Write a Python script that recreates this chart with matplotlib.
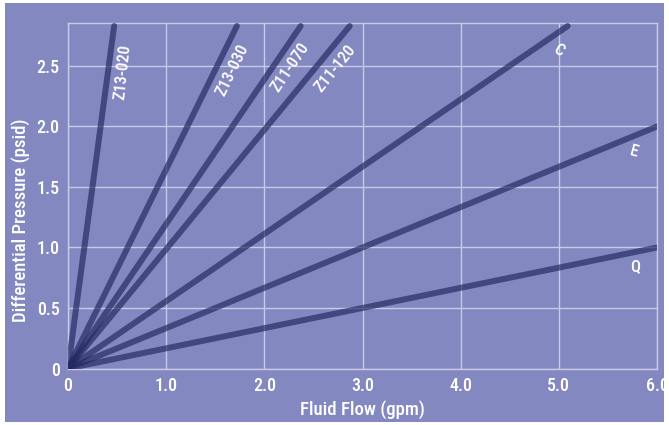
import matplotlib
matplotlib.use("Agg")
import matplotlib.pyplot as plt
from matplotlib import font_manager

# pick a condensed sans face if one is installed
cands = []
for f in font_manager.fontManager.ttflist:
    nm = f.name
    fn = f.fname.lower()
    if f.style != 'normal':
        continue
    cond = ('condensed' in fn and 'semicondensed' not in fn and 'extracondensed' not in fn) or 'narrow' in fn
    if not cond:
        continue
    if any(k in nm for k in ('Mono', 'Serif', 'CJK')):
        continue
    w = f.weight if isinstance(f.weight, int) else 400
    pref = 0 if 'Roboto' in nm else 1 if 'Liberation' in nm else 2 if 'Noto' in nm else 3
    cands.append((pref, abs(w - 500), f.fname))
cands.sort()
if cands:
    FP = lambda size: font_manager.FontProperties(fname=cands[0][2], size=size)
else:
    FP = lambda size: font_manager.FontProperties(family=['Roboto', 'DejaVu Sans'], weight='medium', size=size)

# data
series = ["Z13-020", "Z13-030", "Z11-070", "Z11-120", "C", "E", "Q"]
end_flow = [0.47, 1.72, 2.37, 2.87, 5.09, 6.0, 6.0]
end_pressure = [2.83, 2.83, 2.83, 2.83, 2.83, 2.0, 1.0]
label_x = [0.56, 1.68, 2.26, 2.72, 5.0, 5.77, 5.78]
label_y = [2.45, 2.47, 2.49, 2.48, 2.63, 1.79, 0.84]
label_rot = [84, 64, 56, 51, -30, -15, 0]
xticks = [0, 1, 2, 3, 4, 5, 6]
xticklabels = ["0", "1.0", "2.0", "3.0", "4.0", "5.0", "6.0"]
yticks = [0, 0.5, 1.0, 1.5, 2.0, 2.5]
yticklabels = ["0", "0.5", "1.0", "1.5", "2.0", "2.5"]

bg = '#8488c0'
gridc = '#c9cae6'
fig = plt.figure(figsize=(6.69, 4.25), dpi=100)
fig.patch.set_facecolor('white')
fig.patches.append(plt.Rectangle((5/669, 3/425), 659/669, 419/425, transform=fig.transFigure,
                                 facecolor=bg, edgecolor='none', zorder=-10))
ax = fig.add_axes([68/669, 1-368.5/425, (657-68)/669, (368.5-23)/425])
ax.set_zorder(1)
ax.set_facecolor(bg)
ax.set_xlim(0, 6)
ax.set_ylim(0, 2.855)
ax.set_xticks(xticks)
ax.set_xticklabels(xticklabels, fontproperties=FP(13))
ax.set_yticks(yticks)
ax.set_yticklabels(yticklabels, fontproperties=FP(13))
ax.tick_params(length=0, colors='white', pad=6)
ax.grid(True, color=gridc, linewidth=1)
ax.set_axisbelow(True)
for s in ax.spines.values():
    s.set_color(gridc)
    s.set_linewidth(1)

for name, fx, fy, lx, ly, r in zip(series, end_flow, end_pressure, label_x, label_y, label_rot):
    ax.plot([0, fx], [0, fy], color='#232962', alpha=0.68, linewidth=4.3, solid_capstyle='round', zorder=3)
    ax.text(lx, ly, name, color='white', fontproperties=FP(12), rotation=r,
            ha='center', va='center', zorder=4)

ax.set_xlabel("Fluid Flow (gpm)", color='white', fontproperties=FP(13.5), labelpad=4)
ax.set_ylabel("Differential Pressure (psid)", color='white', fontproperties=FP(13.5), labelpad=6)
ax.yaxis.set_label_coords(-0.064, 0.43)

fig.savefig("out.png", dpi=100, facecolor='white')
